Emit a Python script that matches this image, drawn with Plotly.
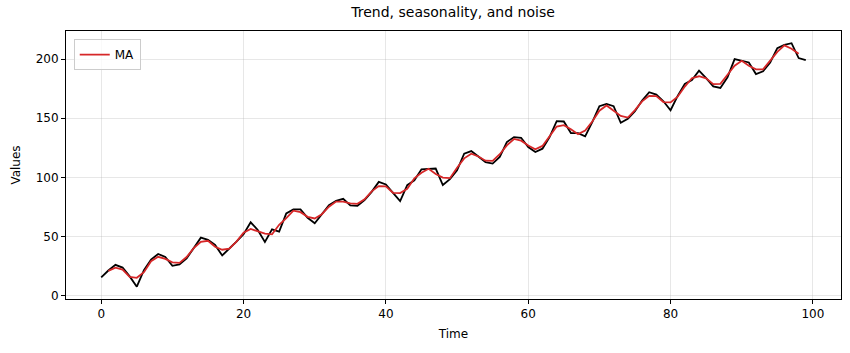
import numpy as np
import pandas as pd
import plotly.graph_objects as go

time = list(range(100))
values = [
    15.4, 21.3, 26.1, 23.8, 16.3, 7.6, 21.5, 30.5, 35.3, 32.8,
    25.3, 26.5, 31.5, 40.1, 49.1, 47.2, 42.9, 34.0, 39.6, 45.7,
    51.9, 62.0, 55.6, 45.5, 56.1, 54.1, 69.6, 73.0, 73.0, 65.9,
    61.2, 68.8, 76.6, 80.2, 81.9, 76.3, 76.0, 80.8, 87.8, 96.2,
    94.0, 87.0, 80.0, 93.4, 97.6, 106.9, 107.5, 107.5, 93.6, 98.5,
    106.0, 120.1, 122.3, 117.8, 113.0, 111.7, 117.3, 129.9, 134.1, 133.5,
    125.7, 121.5, 124.3, 134.1, 147.6, 147.3, 137.5, 137.5, 134.7, 146.7,
    160.2, 162.2, 160.2, 146.2, 149.6, 156.0, 165.0, 172.0, 170.0, 164.4,
    156.8, 169.0, 179.0, 182.4, 190.2, 184.0, 177.0, 175.7, 184.6, 200.0,
    198.7, 197.2, 187.4, 189.7, 197.2, 209.3, 212.1, 213.5, 200.9, 199.2,
]
ma_window = 3
ma = pd.Series(values).rolling(ma_window, center=True).mean().tolist()

fig = go.Figure()
fig.add_trace(go.Scatter(x=time, y=values, mode="lines",
                         line=dict(color="black", width=1.8),
                         showlegend=False, hoverinfo="skip"))
fig.add_trace(go.Scatter(x=time, y=ma, mode="lines", name="MA",
                         line=dict(color="#d62728", width=1.8)))

axis_common = dict(
    showline=True, linecolor="black", linewidth=1, mirror=True,
    ticks="outside", ticklen=4, tickwidth=1, tickcolor="black",
    showgrid=True, gridcolor="rgba(176,176,176,0.3)", gridwidth=1,
    zeroline=False, tickfont=dict(size=12, color="black"),
)

fig.update_layout(
    width=850, height=353,
    margin=dict(l=66, r=9, t=31, b=54),
    paper_bgcolor="white", plot_bgcolor="white",
    font=dict(family="DejaVu Sans", size=12, color="black"),
    title=dict(text="Trend, seasonality, and noise", x=0.533, xanchor="center",
               y=1 - 12 / 353, yanchor="middle", font=dict(size=14)),
    xaxis=dict(range=[-4.95, 103.95], tickvals=[0, 20, 40, 60, 80, 100],
               title=dict(text="Time", font=dict(size=12), standoff=9), **axis_common),
    yaxis=dict(range=[-2.8, 223.8], tickvals=[0, 50, 100, 150, 200],
               title=dict(text="Values", font=dict(size=12), standoff=12), **axis_common),
    legend=dict(x=0.01, y=0.97, xanchor="left", yanchor="top",
                bgcolor="rgba(255,255,255,0.8)", bordercolor="#cccccc", borderwidth=1,
                font=dict(size=12)),
)

fig.write_html("out.html")
